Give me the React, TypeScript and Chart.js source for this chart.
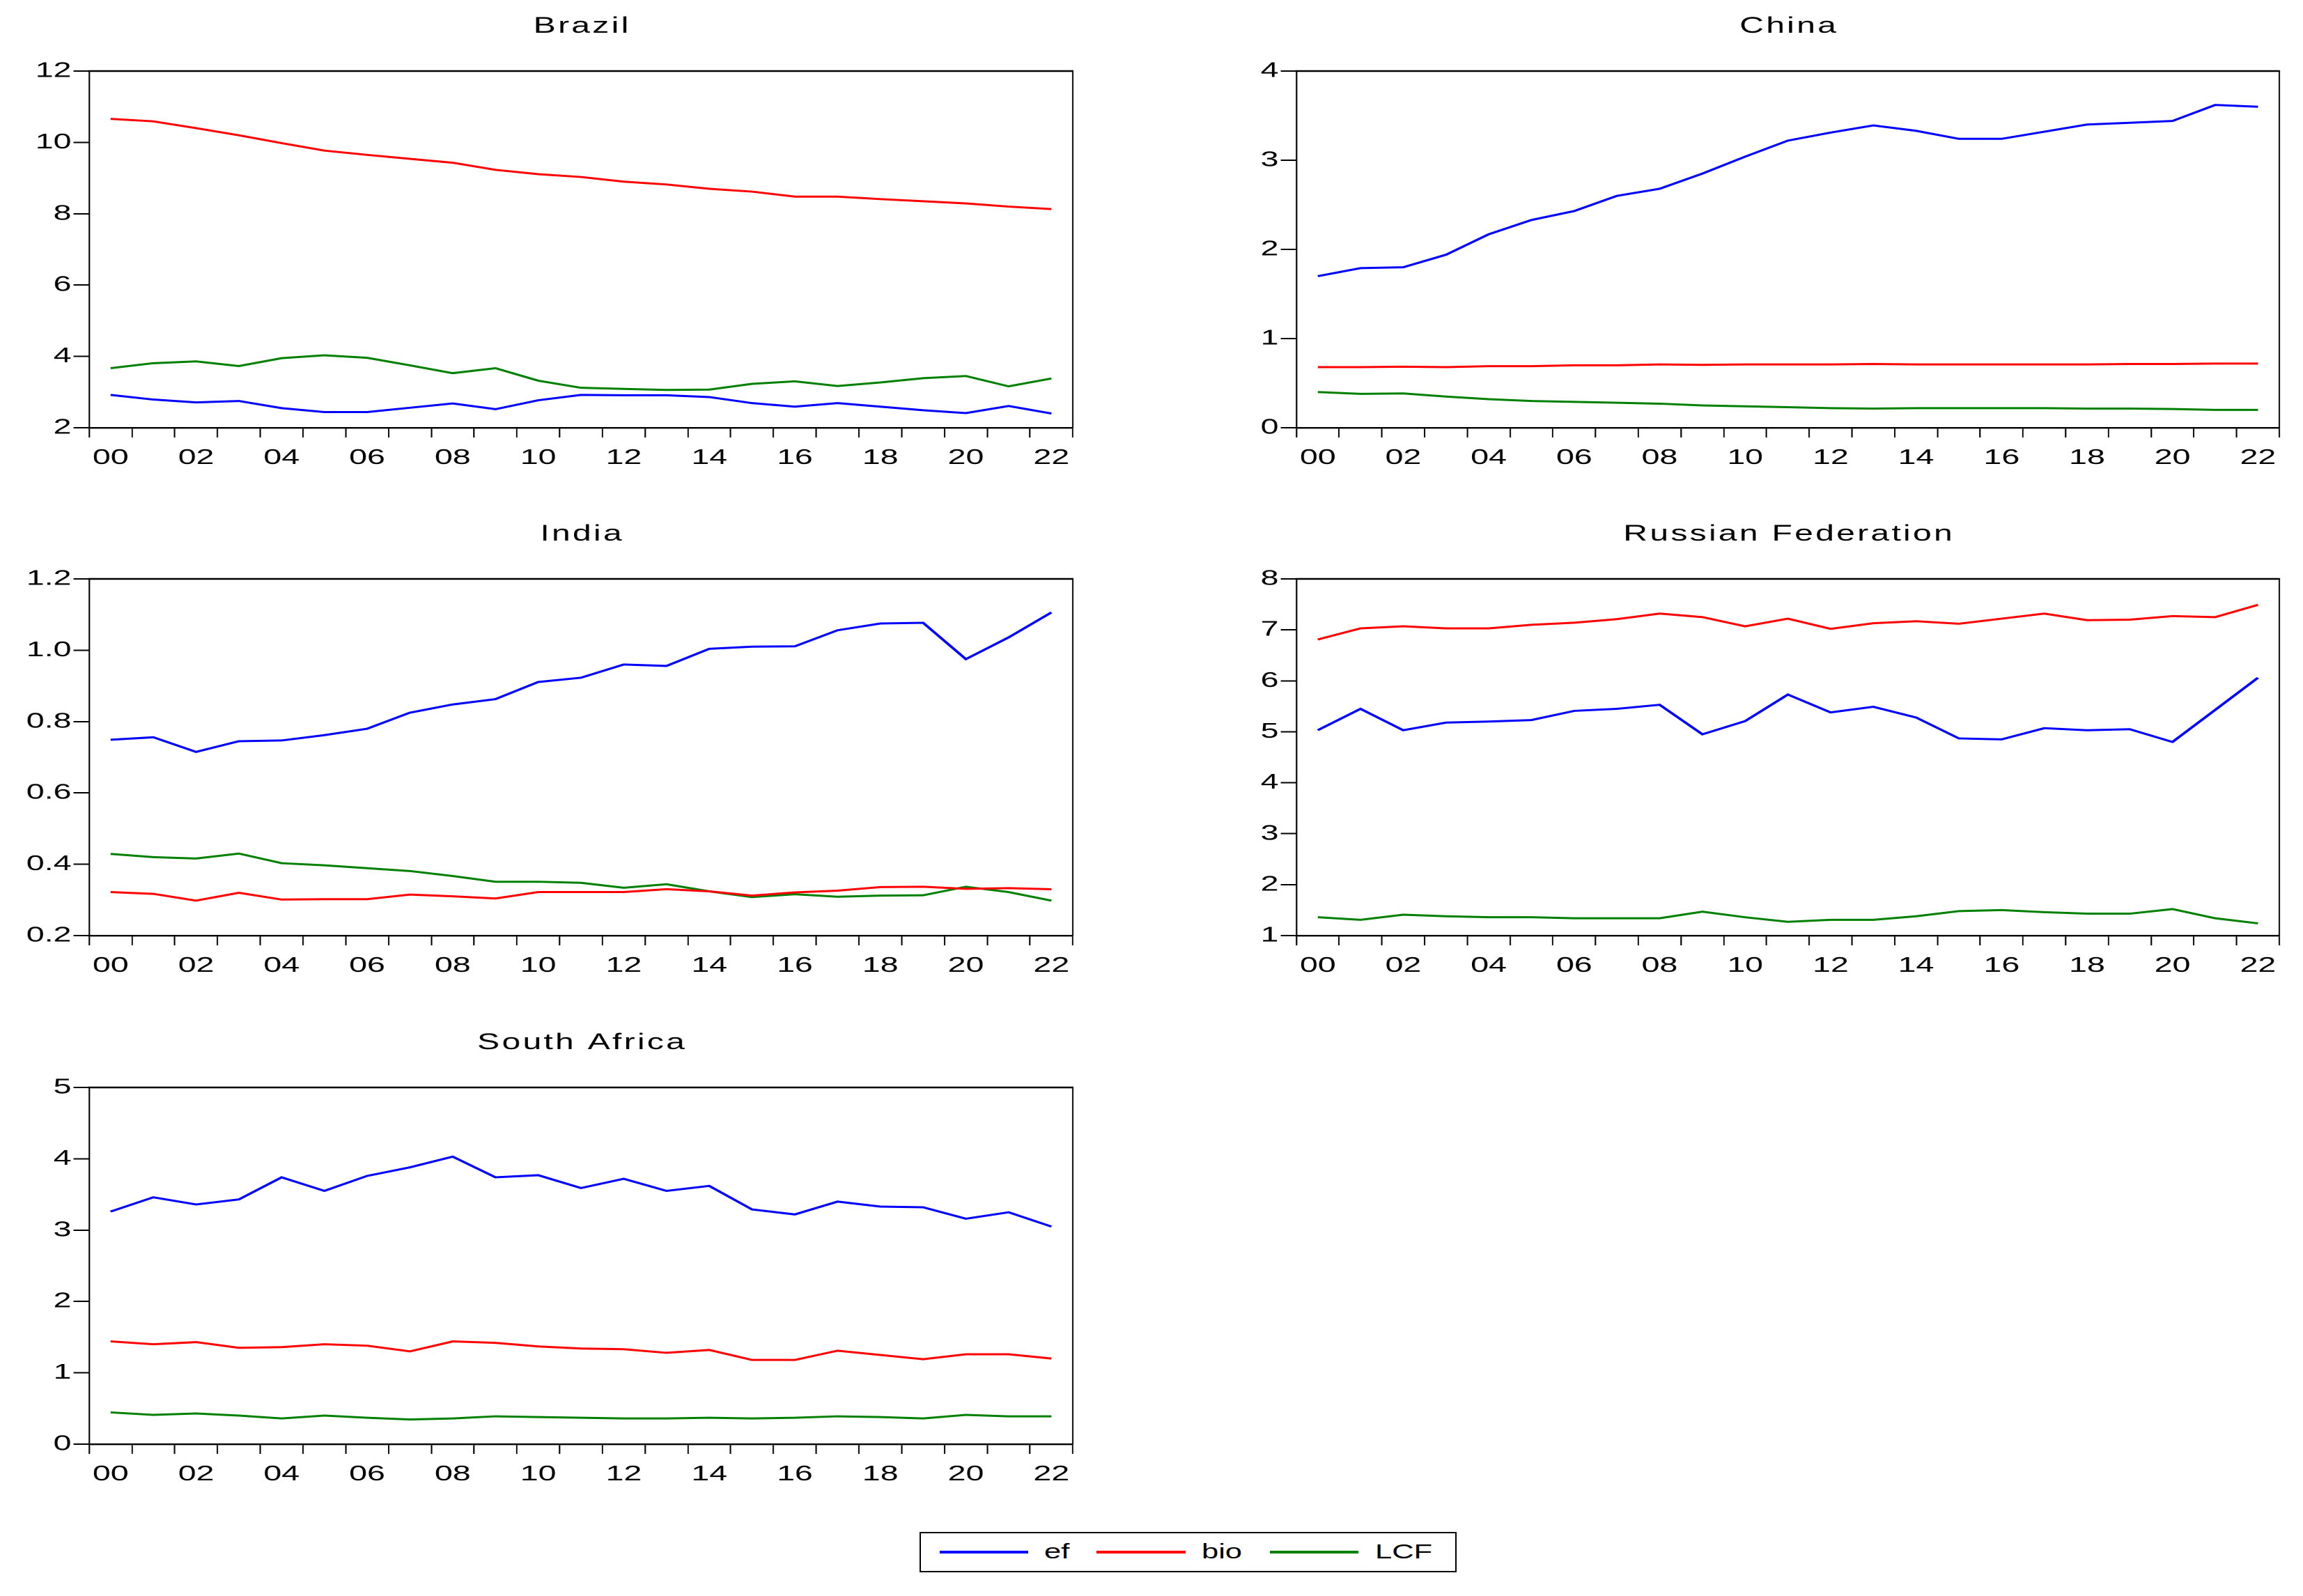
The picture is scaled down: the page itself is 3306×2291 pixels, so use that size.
import React, { useEffect, useRef } from 'react';
import { Chart, registerables } from 'chart.js';

Chart.register(...registerables);

// ---------- data ----------
const years = ['00','01','02','03','04','05','06','07','08','09','10','11','12','13','14','15','16','17','18','19','20','21','22'];

const brazilEf = [2.92,2.79,2.71,2.75,2.55,2.44,2.44,2.56,2.68,2.52,2.77,2.92,2.91,2.91,2.86,2.69,2.59,2.69,2.59,2.49,2.41,2.61,2.40];
const brazilBio = [10.66,10.59,10.40,10.20,9.98,9.77,9.65,9.54,9.43,9.23,9.11,9.03,8.90,8.82,8.70,8.62,8.48,8.48,8.41,8.35,8.29,8.20,8.13];
const brazilLcf = [3.67,3.81,3.86,3.73,3.95,4.03,3.96,3.75,3.53,3.67,3.32,3.12,3.09,3.06,3.07,3.23,3.30,3.17,3.27,3.39,3.45,3.16,3.38];

const chinaEf = [1.70,1.79,1.80,1.94,2.17,2.33,2.43,2.60,2.68,2.85,3.04,3.22,3.31,3.39,3.33,3.24,3.24,3.32,3.40,3.42,3.44,3.62,3.60];
const chinaBio = [0.68,0.68,0.685,0.68,0.69,0.69,0.70,0.70,0.71,0.705,0.71,0.71,0.71,0.715,0.71,0.71,0.71,0.71,0.71,0.715,0.715,0.72,0.72];
const chinaLcf = [0.40,0.38,0.385,0.35,0.32,0.30,0.29,0.28,0.27,0.25,0.24,0.23,0.22,0.215,0.22,0.22,0.22,0.22,0.215,0.215,0.21,0.20,0.20];

const indiaEf = [0.749,0.756,0.715,0.745,0.747,0.762,0.780,0.825,0.848,0.863,0.911,0.923,0.960,0.956,1.004,1.010,1.011,1.056,1.075,1.077,0.975,1.036,1.106];
const indiaBio = [0.322,0.317,0.298,0.320,0.301,0.302,0.302,0.315,0.310,0.304,0.322,0.322,0.322,0.330,0.324,0.312,0.321,0.326,0.336,0.337,0.331,0.333,0.330];
const indiaLcf = [0.429,0.420,0.416,0.430,0.403,0.397,0.389,0.381,0.367,0.351,0.351,0.348,0.334,0.344,0.324,0.308,0.316,0.309,0.312,0.313,0.337,0.322,0.298];

const russiaEf = [5.03,5.45,5.03,5.18,5.20,5.23,5.41,5.45,5.53,4.95,5.21,5.73,5.38,5.49,5.28,4.87,4.85,5.07,5.03,5.05,4.80,5.43,6.06];
const russiaBio = [6.81,7.03,7.07,7.03,7.03,7.10,7.14,7.21,7.32,7.25,7.07,7.22,7.02,7.13,7.17,7.12,7.22,7.32,7.19,7.20,7.27,7.25,7.49];
const russiaLcf = [1.36,1.31,1.41,1.38,1.36,1.36,1.34,1.34,1.34,1.47,1.36,1.27,1.31,1.31,1.38,1.48,1.50,1.46,1.43,1.43,1.52,1.34,1.24];

const saEf = [3.26,3.46,3.36,3.43,3.74,3.55,3.76,3.88,4.03,3.74,3.77,3.59,3.72,3.55,3.62,3.29,3.22,3.40,3.33,3.32,3.16,3.25,3.05];
const saBio = [1.44,1.40,1.43,1.35,1.36,1.40,1.38,1.30,1.44,1.42,1.37,1.34,1.33,1.28,1.32,1.18,1.18,1.31,1.25,1.19,1.26,1.26,1.20];
const saLcf = [0.445,0.41,0.43,0.40,0.36,0.40,0.37,0.345,0.36,0.39,0.38,0.37,0.36,0.36,0.37,0.36,0.37,0.39,0.38,0.36,0.41,0.39,0.39];

const seriesNames = ['ef', 'bio', 'LCF'];
const seriesColors = ['#0000ff', '#ff0000', '#008000'];

// ---------- layout ----------
const S = 1.5;          // horizontal text stretch of the original graph
const AXW = 70;         // y axis width (internal units)
const TOP = 110;        // space above plot
const BOT = 70;         // x axis height
const FONT = '"Liberation Sans", Arial, sans-serif';

type PanelCfg = {
  title: string;
  ef: number[]; bio: number[]; lcf: number[];
  min: number; max: number; step: number; dec: number;
  px: number; py: number; pw: number; ph: number;
};

const panels: PanelCfg[] = [
  { title: 'Brazil', ef: brazilEf, bio: brazilBio, lcf: brazilLcf, min: 2, max: 12, step: 2, dec: 0, px: 128, py: 102, pw: 1412, ph: 512 },
  { title: 'China', ef: chinaEf, bio: chinaBio, lcf: chinaLcf, min: 0, max: 4, step: 1, dec: 0, px: 1861, py: 102, pw: 1411, ph: 512 },
  { title: 'India', ef: indiaEf, bio: indiaBio, lcf: indiaLcf, min: 0.2, max: 1.2, step: 0.2, dec: 1, px: 128, py: 831, pw: 1412, ph: 512 },
  { title: 'Russian Federation', ef: russiaEf, bio: russiaBio, lcf: russiaLcf, min: 1, max: 8, step: 1, dec: 0, px: 1861, py: 831, pw: 1411, ph: 512 },
  { title: 'South Africa', ef: saEf, bio: saBio, lcf: saLcf, min: 0, max: 5, step: 1, dec: 0, px: 128, py: 1561, pw: 1412, ph: 512 },
];

const framePlugin = {
  id: 'frameAndTitle',
  afterDraw(chart: any, _args: any, opts: any) {
    const { ctx, chartArea } = chart;
    const { left, right, top, bottom } = chartArea;
    ctx.save();
    ctx.strokeStyle = '#000';
    ctx.lineWidth = 2.6;
    ctx.beginPath();
    ctx.moveTo(left - 1, top);
    ctx.lineTo(right + 1 / S, top);
    ctx.stroke();
    ctx.lineWidth = 2 / S;
    ctx.beginPath();
    ctx.moveTo(right, top);
    ctx.lineTo(right, bottom);
    ctx.stroke();
    // title
    const sp = 2.2;
    ctx.font = `32px ${FONT}`;
    try { (ctx as any).letterSpacing = `${sp}px`; } catch (e) {}
    ctx.fillStyle = '#000';
    ctx.textAlign = 'center';
    ctx.textBaseline = 'middle';
    ctx.fillText(opts.text, (left + right) / 2 + sp / 2, top - 64);
    ctx.restore();
  },
};

function Panel({ cfg }: { cfg: PanelCfg }) {
  const ref = useRef<HTMLCanvasElement>(null);
  const plotW = cfg.pw / S;
  const innerW = Math.ceil(AXW + plotW + 24);
  const RP = innerW - AXW - plotW;
  const H = TOP + cfg.ph + BOT;
  const left = cfg.px - AXW * S;
  const top = cfg.py - TOP;

  useEffect(() => {
    const vals = [cfg.ef, cfg.bio, cfg.lcf];
    const chart = new Chart(ref.current as HTMLCanvasElement, {
      type: 'line',
      data: {
        labels: years,
        datasets: vals.map((d, i) => ({
          label: seriesNames[i],
          data: d,
          borderColor: seriesColors[i],
          backgroundColor: seriesColors[i],
          borderWidth: 3,
          pointRadius: 0,
          tension: 0,
          fill: false,
        })),
      },
      options: {
        animation: false,
        responsive: true,
        maintainAspectRatio: false,
        devicePixelRatio: 2,
        events: [],
        layout: { padding: { left: 0, right: RP, top: TOP, bottom: 0 } },
        plugins: {
          legend: { display: false },
          tooltip: { enabled: false },
          title: { display: false },
          frameAndTitle: { text: cfg.title },
        } as any,
        scales: {
          x: {
            type: 'category',
            offset: true,
            grid: {
              offset: true,
              drawOnChartArea: false,
              drawTicks: true,
              tickLength: 14,
              lineWidth: 2 / S,
              tickWidth: 2 / S,
              color: '#000',
              tickColor: '#000',
            },
            border: { display: true, color: '#000', width: 2.4 },
            ticks: {
              autoSkip: false,
              maxRotation: 0,
              minRotation: 0,
              padding: 11,
              color: '#000',
              font: { family: FONT, size: 31 },
              callback: (_v: any, i: number) => (i % 2 === 0 ? years[i] : ''),
            },
            afterFit: (a: any) => { a.height = BOT; },
          },
          y: {
            type: 'linear',
            min: cfg.min,
            max: cfg.max,
            grid: {
              drawOnChartArea: false,
              drawTicks: true,
              tickLength: 15,
              lineWidth: 2,
              tickWidth: 2,
              color: '#000',
              tickColor: '#000',
            },
            border: { display: true, color: '#000', width: 2 / S },
            ticks: {
              stepSize: cfg.step,
              padding: 2,
              color: '#000',
              font: { family: FONT, size: 31 },
              callback: (v: any) => Number(v).toFixed(cfg.dec),
            },
            afterFit: (a: any) => { a.width = AXW; },
          },
        },
      } as any,
      plugins: [framePlugin],
    });
    return () => chart.destroy();
  }, []);

  return (
    <div style={{ position: 'absolute', left, top, width: innerW * S, height: H }}>
      <div style={{ position: 'absolute', left: 0, top: 0, width: innerW, height: H, transform: `scaleX(${S})`, transformOrigin: '0 0' }}>
        <canvas ref={ref} />
      </div>
    </div>
  );
}

const legendItems = [
  { lineX: 1349, lineW: 127, textX: 1499 },
  { lineX: 1574, lineW: 128, textX: 1725 },
  { lineX: 1823, lineW: 127, textX: 1974 },
];

function Legend() {
  const cy = 2228;
  return (
    <>
      <div style={{ position: 'absolute', left: 1320, top: 2199, width: 771, height: 58, border: '2.6px solid #000', boxSizing: 'border-box' }} />
      {legendItems.map((it, i) => (
        <React.Fragment key={i}>
          <div style={{ position: 'absolute', left: it.lineX, top: cy - 2, width: it.lineW, height: 4, background: seriesColors[i] }} />
          <span style={{ position: 'absolute', left: it.textX, top: cy - 15, fontFamily: FONT, fontSize: 29, lineHeight: '29px', color: '#000', transform: `scaleX(${S})`, transformOrigin: '0 50%', whiteSpace: 'nowrap' }}>{seriesNames[i]}</span>
        </React.Fragment>
      ))}
    </>
  );
}

export default function App() {
  return (
    <div style={{ position: 'absolute', left: 0, top: 0, width: 3306, height: 2291, overflow: 'hidden', background: '#fff' }}>
      {panels.map((p) => <Panel key={p.title} cfg={p} />)}
      <Legend />
    </div>
  );
}
